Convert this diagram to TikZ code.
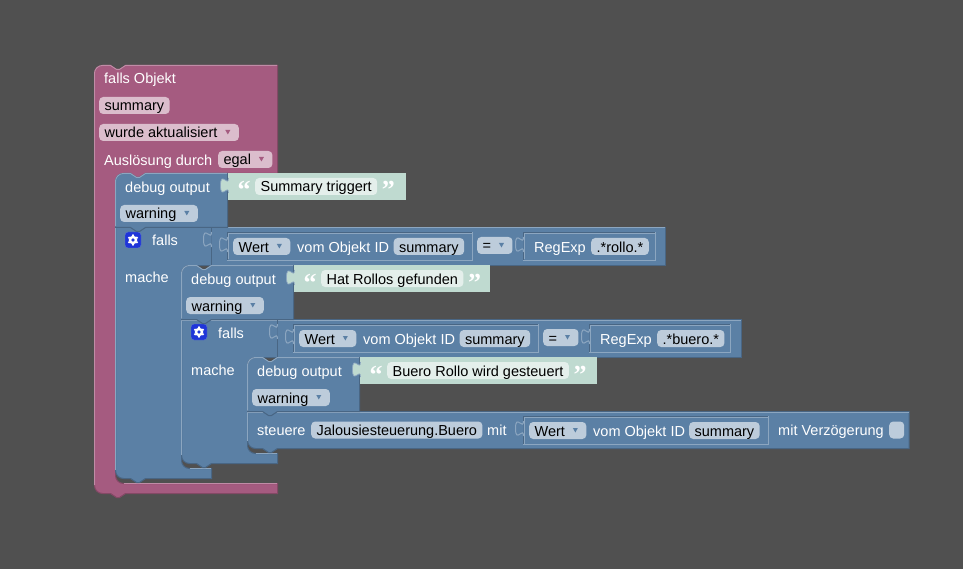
\documentclass[tikz,border=0pt]{standalone}
\usepackage{fontspec}
\setmainfont{Liberation Sans}
\newfontfamily\quotefont{Liberation Serif}
\usepackage{tikz}
\definecolor{backdrop}{HTML}{505050}
\definecolor{pinkblock}{HTML}{A55B80}
\definecolor{pinklight}{HTML}{C08CA6}
\definecolor{pinkdark}{HTML}{844966}
\definecolor{pinkfield}{HTML}{DBBDCC}
\definecolor{blueblock}{HTML}{5B80A5}
\definecolor{bluelight}{HTML}{8CA6C0}
\definecolor{bluedark}{HTML}{496684}
\definecolor{bluefield}{HTML}{BDCCDB}
\definecolor{greenblock}{HTML}{BFDAD0}
\definecolor{greenfield}{HTML}{E4EFEB}
\definecolor{gearblue}{HTML}{1F35D8}
\tikzset{
	label/.style={anchor=west,inner sep=0pt,text=white,font=\fontsize{14.5}{16}\selectfont,text height=12pt,text depth=1pt},
	field/.style={anchor=west,inner xsep=5.4pt,inner ysep=2pt,rounded corners=4pt,text=black,font=\fontsize{14.5}{16}\selectfont,text height=12pt,text depth=1pt,minimum width=15pt},
	bluefieldbox/.style={field,fill=bluefield},
	pinkfieldbox/.style={field,fill=pinkfield},
	greenfieldbox/.style={field,fill=greenfield},
	dropbox/.style={field,fill=#1field,execute at end node={\hspace{16pt}},
		path picture={\fill[#1block,sharp corners] ([xshift=-13.5pt,yshift=2.5pt]path picture bounding box.east) -- ++(5,0) -- ++(-2.5,4.5) -- cycle;}},
	pinkblockshape/.style={fill=pinkblock,draw=pinkdark,line width=1pt},
	blueblockshape/.style={fill=blueblock,draw=bluedark,line width=1pt},
	pinkedge/.style={draw=pinklight,line width=1pt},
	blueedge/.style={draw=bluelight,line width=1pt},
	quotemark/.style={anchor=base,inner sep=0pt,text=white,font=\quotefont\bfseries\fontsize{26}{26}\selectfont}
}
% block outline pieces
\newcommand{\notchright}{-- ++(6,4) -- ++(3,0) -- ++(6,-4)}
\newcommand{\notchleft}{-- ++(-6,4) -- ++(-3,0) -- ++(-6,-4)}
\newcommand{\tabcurve}[2]{(#1,#2) .. controls (#1,#2+10) and (#1-8,#2-8) .. (#1-8,#2+7.5) .. controls (#1-8,#2+23) and (#1,#2+5) .. (#1,#2+15)}
% debug block: x, y of its top left corner, name
\newcommand{\debugblock}[3]{
	\draw[blueblockshape] (#1+.5,#2+8.5) arc (180:270:8) -- (#1+15.5,#2+.5) \notchright -- (#1+112.5,#2+.5) -- (#1+112.5,#2+54.5) -- (#1+30.5,#2+54.5) \notchleft -- (#1+.5,#2+54.5) -- cycle;
	\draw[blueedge] (#1+.5,#2+53.5) -- (#1+.5,#2+8.5) arc (180:270:8) -- (#1+15.5,#2+.5) \notchright -- (#1+112,#2+.5);
	\node[label] (#3title) at (#1+10,#2+14) {debug output};
	\node[dropbox=blue] (#3level) at (#1+5,#2+40.5) {warning};
}
% string block: x1, x2, y, name, text, field x
\newcommand{\stringblock}[6]{
	\fill[greenblock] (#1,#3) rectangle (#2,#3+27);
	\fill[greenblock] \tabcurve{#1+.5}{#3+5};
	\draw[bluelight,line width=.7pt] \tabcurve{#1+.5}{#3+5};
	\node[greenfieldbox] (#4) at (#6,#3+13.5) {#5};
	\node[quotemark] (#4open) at (#6-11,#3+26) {“};
	\node[quotemark] (#4close) at (#4.east) [xshift=11pt,yshift=-12.5pt] {”};
}
% inset value box with its tab: x1, x2, y1, y2
\newcommand{\valuebox}[4]{
	\draw[blueblockshape] (#1+.5,#3+.5) rectangle (#2+.5,#4+.5);
	\draw[blueedge] (#2+.5,#3) -- (#2+.5,#4+.5) -- (#1,#4+.5);
	\draw[blueedge] (#1+1.5,#4-.5) -- (#1+1.5,#3+1.5) -- (#2-.5,#3+1.5);
	\fill[blueblock] \tabcurve{#1+.5}{#3+5};
	\draw[blueedge] \tabcurve{#1+.5}{#3+5};
}
% gear button: x, y, name
\newcommand{\gearbutton}[3]{
	\node[draw=bluelight!60!gearblue,fill=gearblue,rounded corners=3pt,minimum size=16pt,inner sep=0pt] (#3) at (#1,#2) {};
	\draw[white,line width=2.4pt] (#3.center) circle (3);
	\foreach \a in {30,90,...,330}
		\fill[white] (#3.center) ++(\a:4.6) circle (1.2);
}
\begin{document}
\begin{tikzpicture}[x=1pt,y=-1pt]
	\useasboundingbox (0,0) rectangle (963,569);
	\fill[backdrop] (0,0) rectangle (963,569);
	% outer pink block
	\draw[pinkblockshape] (94.5,73.5) arc (180:270:8) -- (110.5,65.5) \notchright -- (277.5,65.5) -- (277.5,173.5) -- (145.5,173.5) \notchleft -- (123.5,173.5) arc (270:180:8) -- (115.5,475.5) arc (180:90:8) -- (277.5,483.5) -- (277.5,493.5) -- (125.5,493.5) \notchleft -- (102.5,493.5) arc (90:180:8) -- cycle;
	\draw[pinkedge] (94.5,485) -- (94.5,73.5) arc (180:270:8) -- (110.5,65.5) \notchright -- (277,65.5);
	\draw[pinkedge] (123.5,483.5) -- (277,483.5);
	\node[label] (trigger) at (104,78.5) {falls Objekt};
	\node[pinkfieldbox] (triggerid) at (99,105.5) {summary};
	\node[dropbox=pink] (triggermode) at (99,132.5) {wurde aktualisiert};
	\node[label] (triggerby) at (104,160) {Auslösung durch};
	\node[dropbox=pink] (triggeregal) at (218,159.5) {egal};
	% first falls block
	\draw[blueblockshape] (115.5,227.5) -- (211.5,227.5) -- (211.5,265.5) -- (189.5,265.5) arc (270:180:8) -- (181.5,460.5) arc (180:90:8) -- (211.5,468.5) -- (211.5,478.5) -- (145.5,478.5) \notchleft -- (123.5,478.5) arc (90:180:8) -- cycle;
	\draw[blueedge] (115.5,470) -- (115.5,228) -- (211,228);
	\draw[blueedge] (189.5,468.5) -- (211,468.5);
	\gearbutton{133}{240}{gearone}
	\node[label] (fallsone) at (152,240.5) {falls};
	\node[label] (macheone) at (125,277.5) {mache};
	% first condition
	\draw[blueblockshape] (211.5,227.5) rectangle (665.5,265.5);
	\draw[blueedge] (212,228) -- (665,228);
	\fill[blueblock] \tabcurve{211.5}{232};
	\draw[blueedge] \tabcurve{211.5}{232};
	\valuebox{227}{472}{232}{260}
	\valuebox{523}{655}{232}{260}
	\node[dropbox=blue] (wertone) at (233,246.5) {Wert};
	\node[label] (vomone) at (297,246.5) {vom Objekt ID};
	\node[bluefieldbox] (summaryone) at (393.5,246.5) {summary};
	\node[dropbox=blue] (equalone) at (477,245.5) {=};
	\node[label] (regexpone) at (534,246.5) {RegExp};
	\node[bluefieldbox] (rolloone) at (591,246.5) {.*rollo.*};
	% second falls block
	\draw[blueblockshape] (181.5,319.5) -- (277.5,319.5) -- (277.5,357.5) -- (255.5,357.5) arc (270:180:8) -- (247.5,445.5) arc (180:90:8) -- (277.5,453.5) -- (277.5,463.5) -- (211.5,463.5) \notchleft -- (189.5,463.5) arc (90:180:8) -- cycle;
	\draw[blueedge] (181.5,455) -- (181.5,320) -- (277,320);
	\draw[blueedge] (255.5,453.5) -- (277,453.5);
	\gearbutton{199}{332}{geartwo}
	\node[label] (fallstwo) at (218,332.5) {falls};
	\node[label] (machetwo) at (191,369.5) {mache};
	% second condition
	\draw[blueblockshape] (277.5,319.5) rectangle (741,357.5);
	\draw[blueedge] (278,320) -- (740.5,320);
	\fill[blueblock] \tabcurve{277.5}{324};
	\draw[blueedge] \tabcurve{277.5}{324};
	\valuebox{293}{538}{324}{352}
	\valuebox{589}{730}{324}{352}
	\node[dropbox=blue] (werttwo) at (299,338.5) {Wert};
	\node[label] (vomtwo) at (363,338.5) {vom Objekt ID};
	\node[bluefieldbox] (summarytwo) at (459.5,338.5) {summary};
	\node[dropbox=blue] (equaltwo) at (543,337.5) {=};
	\node[label] (regexptwo) at (600,338.5) {RegExp};
	\node[bluefieldbox] (buerotwo) at (657,338.5) {.*buero.*};
	% steuere block
	\draw[blueblockshape] (247.5,411.5) -- (909,411.5) -- (909,448.5) -- (277.5,448.5) \notchleft -- (255.5,448.5) arc (90:180:8) -- cycle;
	\draw[blueedge] (247.5,441) -- (247.5,412) -- (908.5,412);
	\valuebox{523}{768}{416}{444}
	\node[label] (steuere) at (257,430) {steuere};
	\node[bluefieldbox] (jalousie) at (311,430) {Jalousiesteuerung.Buero};
	\node[label] (steueremit) at (487,430) {mit};
	\node[dropbox=blue] (wertthree) at (529,430.5) {Wert};
	\node[label] (vomthree) at (593,430.5) {vom Objekt ID};
	\node[bluefieldbox] (summarythree) at (689,430.5) {summary};
	\node[label] (delay) at (778,430) {mit Verzögerung};
	\node[bluefieldbox] (delayvalue) at (889,430) {};
	% debug output blocks
	\debugblock{115}{173}{debugone}
	\debugblock{181}{265}{debugtwo}
	\debugblock{247}{357}{debugthree}
	\stringblock{228}{406}{173}{textone}{Summary triggert}{255}
	\stringblock{294}{490}{265}{texttwo}{Hat Rollos gefunden}{321}
	\stringblock{360}{597}{357}{textthree}{Buero Rollo wird gesteuert}{387}
\end{tikzpicture}
\end{document}
